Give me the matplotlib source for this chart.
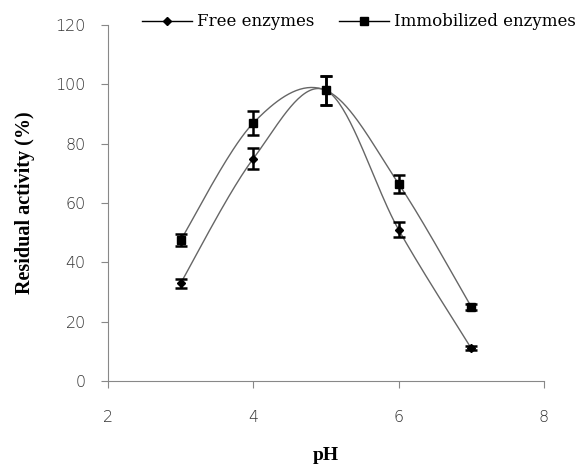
import numpy as np
import matplotlib
matplotlib.use("Agg")
import matplotlib.pyplot as plt
from matplotlib.lines import Line2D

ph = [3, 4, 5, 6, 7]
free = [33, 75, 98, 51, 11]
free_err = [1.5, 3.5, 5, 2.5, 0.7]
immob = [47.5, 87, 98, 66.5, 25]
immob_err = [2, 4, 5, 3, 1]

def excel_smooth(x, y, n=40):
    x = np.asarray(x, float); y = np.asarray(y, float)
    xs, ys = [], []
    m = len(x)
    for i in range(m - 1):
        p0 = np.array([x[i], y[i]]); p3 = np.array([x[i+1], y[i+1]])
        pm = np.array([x[i-1], y[i-1]]) if i > 0 else p0
        pp = np.array([x[i+2], y[i+2]]) if i + 2 < m else p3
        c1 = p0 + (p3 - pm) / 6.0
        c2 = p3 - (pp - p0) / 6.0
        t = np.linspace(0, 1, n)[:, None]
        b = (1-t)**3*p0 + 3*(1-t)**2*t*c1 + 3*(1-t)*t**2*c2 + t**3*p3
        xs.extend(b[:, 0]); ys.extend(b[:, 1])
    return np.array(xs), np.array(ys)

plt.rcParams['font.family'] = ['Liberation Serif', 'DejaVu Serif']
fig = plt.figure(figsize=(5.82, 4.65), dpi=100)
ax = fig.add_axes([0.1856, 0.1806, 0.749, 0.7654])

for yv, err, mk, ms in [(free, free_err, 'D', 4.5), (immob, immob_err, 's', 6)]:
    sx, sy = excel_smooth(ph, yv)
    ax.plot(sx, sy, color='#666666', lw=1.0)
    ax.errorbar(ph, yv, yerr=err, fmt=mk, color='black', ms=ms, ecolor='black',
                elinewidth=1.8, capsize=4.3, capthick=1.8)

ax.set_xlim(2, 8)
ax.set_ylim(0, 120)
ax.set_xticks([2, 4, 6, 8])
ax.set_yticks(range(0, 121, 20))
for s in ['top', 'right']:
    ax.spines[s].set_visible(False)
for s in ['left', 'bottom']:
    ax.spines[s].set_color('#888888')
ax.tick_params(colors='#888888', labelcolor='#333333', direction='out', length=5)
ax.tick_params(axis='x', pad=16)
ax.tick_params(axis='y', pad=11)
for lab in ax.get_xticklabels() + ax.get_yticklabels():
    lab.set_fontfamily('DejaVu Sans')
    lab.set_fontsize(11.5)
    lab.set_fontweight('light')
ax.set_xlabel('pH', fontsize=14, fontweight='bold', labelpad=16)
ax.set_ylabel('Residual activity (%)', fontsize=14.5, fontweight='bold', labelpad=15)

handles = [Line2D([], [], color='black', marker='D', ms=4.5, lw=1),
           Line2D([], [], color='black', marker='s', ms=6, lw=1)]
fig.legend(handles, ['Free enzymes', 'Immobilized enzymes'], loc='center',
           bbox_to_anchor=(0.617, 0.953), ncol=2, frameon=False,
           prop={'family': 'DejaVu Serif', 'size': 12},
           handlelength=3, columnspacing=1.5, handletextpad=0.3)

fig.savefig('out.png', dpi=100)
